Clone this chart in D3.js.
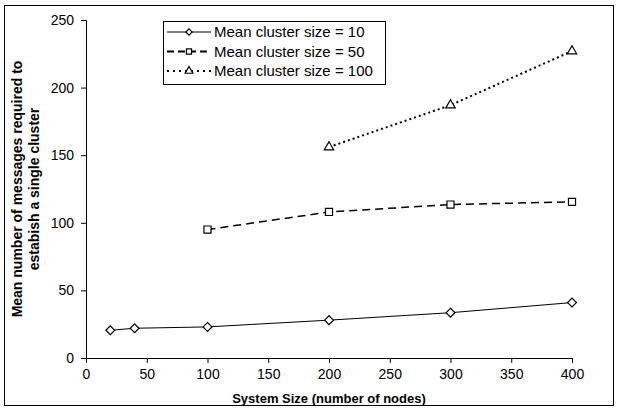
<!DOCTYPE html>
<html>
<head>
<meta charset="utf-8">
<script src="https://cdn.jsdelivr.net/npm/d3@7"></script>
<style>
  html, body { margin: 0; padding: 0; background: #fff; }
  svg { display: block; }
</style>
</head>
<body>
<svg id="chart" width="619" height="414"></svg>
<script>
// ===== DATA =====
const seriesNames = ['Mean cluster size = 10', 'Mean cluster size = 50', 'Mean cluster size = 100'];
const size10 = [[20, 20.5], [40, 22], [100, 23], [200, 28], [300, 33.5], [400, 41]];
const size50 = [[100, 95], [200, 108], [300, 113.5], [400, 115.5]];
const size100 = [[200, 156], [300, 187], [400, 227]];
const xTicks = [0, 50, 100, 150, 200, 250, 300, 350, 400];
const yTicks = [0, 50, 100, 150, 200, 250];

const series = [
    { name: seriesNames[0], values: size10, dash: null, width: 1, symbol: d3.symbolDiamond2, size: 50 },
    { name: seriesNames[1], values: size50, dash: '8,5', width: 1.5, symbol: d3.symbolSquare, size: 50 },
    { name: seriesNames[2], values: size100, dash: '2,3', width: 2, symbol: d3.symbolTriangle, size: 38 }
];

const svg = d3.select('#chart');
const font = 'Arial, "Liberation Sans", sans-serif';

// outer frame
svg.append('rect')
    .attr('x', 4.5).attr('y', 5.5)
    .attr('width', 609).attr('height', 400)
    .attr('fill', 'none').attr('stroke', '#000').attr('stroke-width', 1);

const margin = { left: 86, right: 47, top: 20, bottom: 56 };
const innerW = 619 - margin.left - margin.right;
const innerH = 414 - margin.top - margin.bottom;

const g = svg.append('g').attr('transform', `translate(${margin.left},${margin.top})`);

const x = d3.scaleLinear().domain([0, 400]).range([0, innerW]);
const y = d3.scaleLinear().domain([0, 250]).range([innerH, 0]);

const xAxisG = g.append('g')
    .attr('transform', `translate(0,${innerH})`)
    .call(d3.axisBottom(x).tickValues(xTicks).tickSize(5).tickPadding(6));
const yAxisG = g.append('g')
    .call(d3.axisLeft(y).tickValues(yTicks).tickSize(5).tickPadding(7));

[xAxisG, yAxisG].forEach(a => {
    a.selectAll('path.domain').attr('stroke', '#000');
    a.selectAll('line').attr('stroke', '#000');
    a.selectAll('text')
        .attr('fill', '#000')
        .style('font-family', font)
        .style('font-size', '14px');
});

// axis titles
svg.append('text')
    .attr('x', margin.left + innerW / 2)
    .attr('y', 403)
    .attr('text-anchor', 'middle')
    .style('font-family', font)
    .style('font-size', '13px')
    .style('font-weight', 'bold')
    .text('System Size (number of nodes)');

const yTitle = svg.append('text')
    .attr('transform', `translate(22,${margin.top + innerH / 2}) rotate(-90)`)
    .attr('text-anchor', 'middle')
    .style('font-family', font)
    .style('font-size', '14px')
    .style('font-weight', 'bold');
yTitle.append('tspan').attr('x', 0).attr('dy', 0).text('Mean number of messages required to');
yTitle.append('tspan').attr('x', 0).attr('dy', 17).text('estabish a single cluster');

// lines and markers
const line = d3.line().x(d => x(d[0])).y(d => y(d[1]));

series.forEach(s => {
    g.append('path')
        .datum(s.values)
        .attr('d', line)
        .attr('fill', 'none')
        .attr('stroke', '#000')
        .attr('stroke-width', s.width)
        .attr('stroke-dasharray', s.dash);

    g.selectAll(null)
        .data(s.values)
        .join('path')
        .attr('transform', d => `translate(${x(d[0])},${y(d[1])})`)
        .attr('d', d3.symbol().type(s.symbol).size(s.size))
        .attr('fill', '#fff')
        .attr('stroke', '#000')
        .attr('stroke-width', 1.2);
});

// legend
const legend = svg.append('g').attr('transform', 'translate(163,21)');
legend.append('rect')
    .attr('x', 0.5).attr('y', 0.5)
    .attr('width', 222).attr('height', 63)
    .attr('fill', '#fff').attr('stroke', '#000');

series.forEach((s, i) => {
    const ly = 11 + i * 19.5;
    legend.append('line')
        .attr('x1', 4).attr('x2', 48)
        .attr('y1', ly).attr('y2', ly)
        .attr('stroke', '#000')
        .attr('stroke-width', s.width === 1 ? 1 : 2)
        .attr('stroke-dasharray', s.dash ? (s.width === 2 ? '2,4' : '7,4') : null);
    legend.append('path')
        .attr('transform', `translate(26,${ly})`)
        .attr('d', d3.symbol().type(s.symbol).size(26))
        .attr('fill', '#fff')
        .attr('stroke', '#000')
        .attr('stroke-width', 1.2);
    legend.append('text')
        .attr('x', 51)
        .attr('y', ly)
        .attr('dy', '0.35em')
        .style('font-family', font)
        .style('font-size', '15px')
        .text(s.name);
});
</script>
</body>
</html>
